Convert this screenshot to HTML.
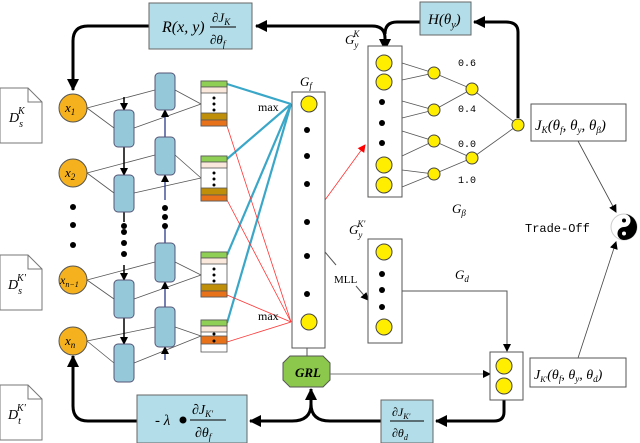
<!DOCTYPE html>
<html><head><style>
html,body{margin:0;padding:0;background:#fff;}
svg{display:block;}
.it{font-family:"Liberation Serif",serif;font-style:italic;}
.sr{font-family:"Liberation Serif",serif;}
.mo{font-family:"Liberation Mono",monospace;}
</style></head><body>
<svg width="640" height="443" viewBox="0 0 640 443" xmlns="http://www.w3.org/2000/svg">
<defs>
<marker id="ah" markerWidth="8" markerHeight="8" refX="7" refY="4" orient="auto" markerUnits="userSpaceOnUse"><path d="M0,0 L8,4 L0,8 z" fill="#000"/></marker>
<marker id="ab" markerWidth="12" markerHeight="12" refX="11" refY="6" orient="auto" markerUnits="userSpaceOnUse"><path d="M0,0 L12,6 L0,12 z" fill="#000"/></marker>
<marker id="ar" markerWidth="8" markerHeight="8" refX="7" refY="4" orient="auto" markerUnits="userSpaceOnUse"><path d="M0,0 L8,4 L0,8 z" fill="#f00"/></marker>
<g id="doc"><path d="M0,0 H28 L42,14 V55 H0 Z" fill="#fff" stroke="#777"/><path d="M28,0 V14 H42" fill="none" stroke="#777"/></g>
</defs>

<g fill="none" stroke="#000" stroke-width="3">
<path d="M149,26 H88 Q73,26 73,41 V90" marker-end="url(#ab)"/>
<path d="M372,26 H256" marker-end="url(#ab)"/>
<path d="M360,26 H372 Q385,26 385,38 V50" marker-end="url(#ab)"/>
<path d="M420,22 H397 Q385,22 385,34"/>
<path d="M518,118 V32 Q518,22 506,22 H474" marker-end="url(#ab)"/>
<path d="M137,421 H88 Q73,421 73,406 V356" marker-end="url(#ab)"/>
<path d="M504,400 V412 Q504,421 494,421 H436" marker-end="url(#ab)"/>
<path d="M381,421 H330 Q311,421 311,404 V389" marker-end="url(#ab)"/>
<path d="M311,404 Q311,421 292,421 H250" marker-end="url(#ab)"/>
</g>

<rect x="149" y="3" width="103" height="46" fill="#b3dde8" stroke="#666"/>
<text x="162" y="32" class="it" font-size="16">R(x, y)</text>
<text x="212" y="22" class="it" font-size="13">∂J<tspan font-size="9" dy="3">K</tspan></text>
<line x1="210" y1="27" x2="236" y2="27" stroke="#000"/>
<text x="210" y="44" class="it" font-size="13">∂θ<tspan font-size="9" dy="3">f</tspan></text>

<rect x="420" y="2" width="51" height="33" fill="#b3dde8" stroke="#666"/>
<text x="428" y="24" class="it" font-size="15">H(θ<tspan font-size="10" dy="4">y</tspan><tspan dy="-4">)</tspan></text>

<use href="#doc" x="0" y="88"/>
<use href="#doc" x="0" y="255"/>
<use href="#doc" x="0" y="385"/>
<text x="9" y="122" class="it" font-size="14">D<tspan font-size="10" dy="5">s</tspan><tspan font-size="10" dx="-5" dy="-13">K</tspan></text>
<text x="8" y="289" class="it" font-size="14">D<tspan font-size="10" dy="5">s</tspan><tspan font-size="10" dx="-5" dy="-13">K'</tspan></text>
<text x="8" y="419" class="it" font-size="14">D<tspan font-size="10" dy="5">t</tspan><tspan font-size="10" dx="-4" dy="-13">K'</tspan></text>

<g stroke="#555" stroke-width="0.8" fill="none">
<path d="M87,108 L155,90 M87,108 L114,128 M134,128 L201,104 M175,90 L201,104"/>
<path d="M87,173 L155,155 M87,173 L114,193 M134,193 L201,178 M175,155 L201,178"/>
<path d="M87,280 L155,262 M87,280 L114,299 M134,299 L201,275 M175,262 L201,275"/>
<path d="M87,341 L155,327 M87,341 L114,363 M134,363 L201,336 M175,327 L201,336"/>
</g>
<g stroke="#000" stroke-width="1.5" fill="none">
<path d="M124,97 V110" marker-end="url(#ah)"/>
<path d="M124,147 V175" marker-end="url(#ah)"/>
<path d="M124,212 V222"/>
<path d="M124,265 V280" marker-end="url(#ah)"/>
<path d="M124,318 V344" marker-end="url(#ah)"/>
</g>
<g stroke="#1a2a80" stroke-width="1.2" fill="none">
<path d="M165,137 V110" marker-end="url(#ah)"/>
<path d="M165,200 V175" marker-end="url(#ah)"/>
<path d="M165,243 V226"/>
<path d="M165,307 V282" marker-end="url(#ah)"/>
<path d="M165,360 V347" marker-end="url(#ah)"/>
</g>
<g fill="#000">
<circle cx="124" cy="232" r="3"/><circle cx="124" cy="243" r="3"/><circle cx="124" cy="254" r="3"/><circle cx="124" cy="226" r="3"/>
<circle cx="165" cy="208" r="3"/><circle cx="165" cy="217" r="3"/><circle cx="165" cy="226" r="3"/>
<circle cx="73" cy="207" r="3"/><circle cx="73" cy="225" r="3"/><circle cx="73" cy="245" r="3"/>
</g>
<g fill="#95c9da" stroke="#557">
<rect x="114" y="110" width="20" height="37" rx="4"/>
<rect x="114" y="175" width="20" height="37" rx="4"/>
<rect x="114" y="280" width="20" height="38" rx="4"/>
<rect x="114" y="344" width="20" height="38" rx="4"/>
<rect x="155" y="73" width="20" height="37" rx="4"/>
<rect x="155" y="137" width="20" height="38" rx="4"/>
<rect x="155" y="243" width="20" height="39" rx="4"/>
<rect x="155" y="307" width="20" height="40" rx="4"/>
</g>
<g fill="#f5b21e" stroke="#555">
<circle cx="73" cy="108" r="14"/><circle cx="73" cy="173" r="14"/><circle cx="73" cy="280" r="14"/><circle cx="73" cy="341" r="14"/>
</g>
<g class="it" font-size="13">
<text x="65" y="112">x<tspan font-size="9" dy="3">1</tspan></text>
<text x="65" y="177">x<tspan font-size="9" dy="3">2</tspan></text>
<text x="60" y="284" font-size="12">x<tspan font-size="8" dy="3">n−1</tspan></text>
<text x="65" y="345">x<tspan font-size="9" dy="3">n</tspan></text>
</g>

<g stroke="#3aa7c8" stroke-width="2.2">
<line x1="227" y1="84" x2="291" y2="104"/>
<line x1="227" y1="159" x2="291" y2="104"/>
<line x1="227" y1="255" x2="291" y2="104"/>
<line x1="227" y1="323" x2="291" y2="104"/>
</g>
<g stroke="#f33" stroke-width="0.8">
<line x1="227" y1="126" x2="291" y2="322"/>
<line x1="227" y1="200" x2="291" y2="322"/>
<line x1="227" y1="295" x2="291" y2="322"/>
<line x1="227" y1="342" x2="291" y2="322"/>
<line x1="325" y1="200" x2="365" y2="145" marker-end="url(#ar)"/>
</g>

<g stroke="#555" stroke-width="0.8">
<g>
<rect x="201" y="81" width="26" height="45" fill="#fff"/>
<rect x="201" y="81" width="26" height="6" fill="#8fcf55"/><rect x="201" y="87" width="26" height="6" fill="#fbe8dc"/>
<rect x="201" y="113" width="26" height="7" fill="#bf8f0a"/><rect x="201" y="120" width="26" height="6" fill="#e8721a"/>
</g>
<g>
<rect x="201" y="156" width="26" height="45" fill="#fff"/>
<rect x="201" y="156" width="26" height="6" fill="#8fcf55"/><rect x="201" y="162" width="26" height="6" fill="#fbe8dc"/>
<rect x="201" y="188" width="26" height="7" fill="#bf8f0a"/><rect x="201" y="195" width="26" height="6" fill="#e8721a"/>
</g>
<g>
<rect x="201" y="252" width="26" height="45" fill="#fff"/>
<rect x="201" y="252" width="26" height="6" fill="#8fcf55"/><rect x="201" y="258" width="26" height="6" fill="#fbe8dc"/>
<rect x="201" y="284" width="26" height="7" fill="#bf8f0a"/><rect x="201" y="291" width="26" height="6" fill="#e8721a"/>
</g>
<g>
<rect x="201" y="320" width="26" height="32" fill="#fff"/>
<rect x="201" y="320" width="26" height="6" fill="#8fcf55"/><rect x="201" y="326" width="26" height="6" fill="#fbe8dc"/>
<rect x="201" y="336" width="26" height="8" fill="#e8721a"/>
</g>
</g>
<g fill="#000">
<circle cx="214" cy="98" r="1.5"/><circle cx="214" cy="104" r="1.5"/><circle cx="214" cy="110" r="1.5"/>
<circle cx="214" cy="173" r="1.5"/><circle cx="214" cy="179" r="1.5"/><circle cx="214" cy="185" r="1.5"/>
<circle cx="214" cy="269" r="1.5"/><circle cx="214" cy="275" r="1.5"/><circle cx="214" cy="281" r="1.5"/>
<circle cx="214" cy="334" r="1.5"/><circle cx="214" cy="341" r="1.5"/>
</g>
<text x="258" y="111" class="sr" font-size="12">max</text>
<text x="258" y="320" class="sr" font-size="12">max</text>

<rect x="292" y="92" width="33" height="256" fill="#fff" stroke="#555"/>
<text x="300" y="86" class="it" font-size="13">G<tspan font-size="9" dy="3">f</tspan></text>
<g fill="#ffee00" stroke="#444"><circle cx="309" cy="104" r="8"/><circle cx="309" cy="322" r="8"/></g>
<g fill="#000"><circle cx="307" cy="130" r="3"/><circle cx="307" cy="156" r="3"/><circle cx="307" cy="184" r="3"/><circle cx="307" cy="222" r="3"/><circle cx="307" cy="256" r="3"/><circle cx="307" cy="294" r="3"/></g>
<line x1="307" y1="348" x2="307" y2="356" stroke="#555"/>
<path d="M290,356 H323 L330,363 V380 L323,387 H290 L283,380 V363 Z" fill="#8cc84b" stroke="#555"/>
<text x="295" y="377" class="it" font-size="13" font-weight="bold">GRL</text>
<line x1="330" y1="374" x2="490" y2="374" stroke="#777" marker-end="url(#ah)"/>

<line x1="325" y1="252" x2="336" y2="265" stroke="#555"/>
<text x="334" y="283" class="sr" font-size="11">MLL</text>
<line x1="356" y1="286" x2="368" y2="300" stroke="#555" marker-end="url(#ah)"/>

<rect x="368" y="46" width="34" height="151" fill="#fff" stroke="#555"/>
<text x="345" y="44" class="it" font-size="13">G<tspan font-size="9" dy="4">y</tspan><tspan font-size="9" dx="-5" dy="-11">K</tspan></text>
<g stroke="#555" stroke-width="0.8" fill="none">
<path d="M402,63 L434,73 L402,80 M402,101 L434,110 L402,118 M402,131 L434,141 L402,156 M402,170 L434,174 L402,187"/>
<path d="M434,73 L472,89 L434,110 M434,141 L472,158 L434,174 M472,89 L518,125 L472,158"/>
</g>
<g fill="#ffee00" stroke="#444">
<circle cx="384" cy="63" r="8"/><circle cx="384" cy="82" r="8"/><circle cx="384" cy="165" r="8"/><circle cx="384" cy="185" r="8"/>
<circle cx="434" cy="73" r="6"/><circle cx="434" cy="110" r="6"/><circle cx="434" cy="141" r="6"/><circle cx="434" cy="174" r="6"/>
<circle cx="472" cy="89" r="6"/><circle cx="472" cy="158" r="6"/><circle cx="518" cy="125" r="6"/>
</g>
<g fill="#000"><circle cx="382" cy="102" r="3"/><circle cx="382" cy="123" r="3"/><circle cx="382" cy="143" r="3"/></g>
<g class="mo" font-size="10"><text x="458" y="66">0.6</text><text x="458" y="112">0.4</text><text x="458" y="147">0.0</text><text x="458" y="183">1.0</text></g>
<text x="452" y="213" class="it" font-size="13">G<tspan font-size="9" dy="3">β</tspan></text>

<rect x="531" y="104" width="95" height="37" fill="#fff" stroke="#555"/>
<text x="535" y="130" class="it" font-size="15">J<tspan font-size="9" dy="3">K</tspan><tspan dy="-3">(θ<tspan font-size="9" dy="3">f</tspan><tspan dy="-3">, θ</tspan><tspan font-size="9" dy="3">y</tspan><tspan dy="-3">, θ</tspan><tspan font-size="9" dy="3">β</tspan><tspan dy="-3">)</tspan></tspan></text>

<text x="525" y="232" class="mo" font-size="12">Trade-Off</text>
<circle cx="624" cy="227" r="13" fill="#fff" stroke="#ccc"/>
<path d="M624,214 A13,13 0 0 1 624,240 A6.5,6.5 0 0 1 624,227 A6.5,6.5 0 0 0 624,214 Z" fill="#000"/>
<circle cx="624" cy="220.5" r="2" fill="#000"/><circle cx="624" cy="233.5" r="2" fill="#fff"/>
<line x1="578" y1="141" x2="616" y2="212" stroke="#444" stroke-width="0.8" marker-end="url(#ah)"/>
<line x1="578" y1="358" x2="616" y2="242" stroke="#444" stroke-width="0.8" marker-end="url(#ah)"/>

<rect x="368" y="239" width="34" height="104" fill="#fff" stroke="#555"/>
<text x="349" y="234" class="it" font-size="13">G<tspan font-size="9" dy="4">y</tspan><tspan font-size="9" dx="-5" dy="-11">K'</tspan></text>
<g fill="#ffee00" stroke="#444"><circle cx="384" cy="252" r="8"/><circle cx="384" cy="327" r="8"/></g>
<g fill="#000"><circle cx="382" cy="274" r="3"/><circle cx="382" cy="290" r="3"/><circle cx="382" cy="307" r="3"/></g>
<text x="455" y="279" class="it" font-size="13">G<tspan font-size="9" dy="3">d</tspan></text>
<path d="M402,291 H507 V351" fill="none" stroke="#555" marker-end="url(#ah)"/>

<rect x="490" y="352" width="33" height="48" fill="#fff" stroke="#555"/>
<g fill="#ffee00" stroke="#444"><circle cx="504" cy="366" r="8"/><circle cx="504" cy="386" r="8"/></g>

<rect x="530" y="358" width="96" height="29" fill="#fff" stroke="#555"/>
<text x="534" y="379" class="it" font-size="14">J<tspan font-size="8" dy="3">K'</tspan><tspan dy="-3">(θ<tspan font-size="9" dy="3">f</tspan><tspan dy="-3">, θ</tspan><tspan font-size="9" dy="3">y</tspan><tspan dy="-3">, θ</tspan><tspan font-size="9" dy="3">d</tspan><tspan dy="-3">)</tspan></tspan></text>

<rect x="381" y="400" width="52" height="43" fill="#b3dde8" stroke="#666"/>
<text x="392" y="416" class="it" font-size="12">∂J<tspan font-size="8" dy="3">K'</tspan></text>
<line x1="390" y1="421" x2="424" y2="421" stroke="#000"/>
<text x="392" y="437" class="it" font-size="12">∂θ<tspan font-size="8" dy="3">d</tspan></text>

<rect x="137" y="395" width="110" height="48" fill="#b3dde8" stroke="#666"/>
<text x="155" y="425" class="it" font-size="15">- λ</text>
<circle cx="183" cy="420" r="3.5" fill="#000"/>
<text x="192" y="414" class="it" font-size="14">∂J<tspan font-size="9" dy="3">K'</tspan></text>
<line x1="190" y1="420" x2="226" y2="420" stroke="#000"/>
<text x="195" y="437" class="it" font-size="14">∂θ<tspan font-size="9" dy="3">f</tspan></text>
</svg>
</body></html>
